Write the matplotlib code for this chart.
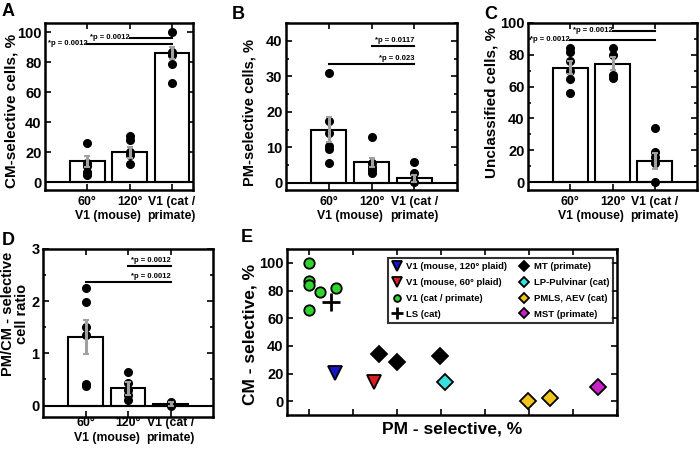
import matplotlib
matplotlib.use("Agg")
import matplotlib.pyplot as plt
from matplotlib.ticker import MultipleLocator
import numpy as np

plt.rcParams['font.family'] = ['Liberation Sans', 'DejaVu Sans']
plt.rcParams['font.weight'] = 'bold'

# ---------------- data ----------------
groups_line1 = ["60°", "120°", "V1 (cat /"]
groups_line2 = ["V1 (mouse)", "primate)"]

# Panel A: CM-selective cells, %
a_means = [14, 20, 86]
a_sem = [3.5, 3.5, 4]
a_pts = [[26, 13, 11, 7, 5], [31, 28, 20, 18, 12], [100, 87, 85, 79, 66]]

# Panel B: PM-selective cells, %
b_means = [15, 5.8, 1.3]
b_sem = [3.5, 1.3, 1.0]
b_pts = [[31, 17.5, 14, 10.5, 9.5, 5.5], [12.8, 5.6, 4.5, 3.5, 2.8], [5.8, 2.8, 0.2]]

# Panel C: Unclassified cells, %
c_means = [72, 74.5, 13.5]
c_sem = [4, 4, 5]
c_pts = [[84, 82, 76, 70, 65, 56], [84, 80, 67, 65.5], [34, 19, 16, 12, 0]]

# Panel D: PM/CM-selective cell ratio
d_means = [1.31, 0.33, 0.03]
d_sem = [0.33, 0.12, 0.03]
d_pts = [[2.25, 1.99, 1.5, 1.35, 0.41, 0.37], [0.65, 0.43, 0.3, 0.2, 0.11], [0.07, 0.02, 0.0]]

# Panel E: CM vs PM selective
e_labels = ["V1 (mouse, 120° plaid)", "V1 (mouse, 60° plaid)", "V1 (cat / primate)", "LS (cat)",
            "MT (primate)", "LP-Pulvinar (cat)", "PMLS, AEV (cat)", "MST (primate)"]
e_pm = [[5.8], [14.8], [0, 0, 0, 2.6, 6.1, 0], [5.1],
        [15.9, 20, 29.8], [30.9], [49.8, 54.7], [65.6]]
e_cm = [[20.5], [14], [100, 87, 84, 79, 82, 66], [72],
        [34, 28, 33], [14], [0.2, 2], [10]]
e_markers = ['v', 'v', 'o', '+', 'D', 'D', 'D', 'D']
e_colors = ['#1515c8', '#d81e1e', '#2fd42f', 'black', 'black', '#38e0e0', '#f0c41e', '#c822c8']
e_sizes = [10, 10, 7.5, 13, 8.5, 8.5, 8.5, 8.5]

W, H = 700, 450
fig = plt.figure(figsize=(7, 4.5), dpi=100)


def ax_px(l, r, t, b):
    return fig.add_axes([l / W, 1 - b / H, (r - l) / W, (b - t) / H])


def ftext(x, y, s, **kw):
    fig.text(x / W, 1 - y / H, s, **kw)


def style(ax):
    for s in ax.spines.values():
        s.set_linewidth(1.8)
    ax.tick_params(which='both', direction='in', top=True, right=True, width=1.2,
                   labelsize=10.5, pad=2.5)
    ax.tick_params(which='major', length=4)
    ax.tick_params(which='minor', length=2.5)
    for lab in ax.get_yticklabels():
        lab.set_fontweight('bold')


def bar_panel(ax, means, sem, pts, xmax, ylim, major, minor, off1, off2):
    x = np.arange(1, len(means) + 1)
    ax.bar(x, means, width=0.82, color='white', edgecolor='black', linewidth=1.5, zorder=2)
    ax.axhline(0, color='black', lw=1.5, zorder=3)
    for xi, p in zip(x, pts):
        ax.plot([xi] * len(p), p, 'o', color='black', ms=5.5, zorder=4)
    ax.errorbar(x, means, yerr=sem, fmt='none', ecolor='#a0a0a0', elinewidth=2.2,
                capsize=2, capthick=1.5, zorder=5)
    ax.set_xlim(0, xmax)
    ax.set_ylim(*ylim)
    ax.set_xticks(x)
    ax.set_xticklabels([])
    ax.yaxis.set_major_locator(MultipleLocator(major))
    if minor:
        ax.yaxis.set_minor_locator(MultipleLocator(minor))
    style(ax)
    for xi, t in zip(x, groups_line1):
        ax.annotate(t, xy=(xi, 0), xycoords=('data', 'axes fraction'),
                    xytext=(0, -off1 * 0.72), textcoords='offset points', ha='center',
                    va='center', fontsize=8.8, fontweight='bold')
    for xi, t in zip([1.5, 3], groups_line2):
        ax.annotate(t, xy=(xi, 0), xycoords=('data', 'axes fraction'),
                    xytext=(0, -off2 * 0.72), textcoords='offset points', ha='center',
                    va='center', fontsize=8.8, fontweight='bold')


def sig_left(ax, x0, x1, y, txt):
    ax.plot([x0, x1], [y, y], color='black', lw=1.5, zorder=6)
    ax.text(x0, y, txt, ha='right', va='center', fontsize=5.5, fontweight='bold', zorder=6)


def sig_above(ax, x0, x1, y, txt, dy):
    ax.plot([x0, x1], [y, y], color='black', lw=1.5, zorder=6)
    ax.text(x1, y + dy, txt, ha='right', va='bottom', fontsize=5.5, fontweight='bold', zorder=6)


# Panel A
axA = ax_px(45, 193, 23, 190)
bar_panel(axA, a_means, a_sem, a_pts, 3.5, (-5, 106), 20, None, 12, 26)
sig_left(axA, 1, 3, 92.3, "*p = 0.0012")
sig_left(axA, 2, 3, 96.3, "*p = 0.0012")
ftext(12, 111, "CM-selective cells, %", rotation=90, ha='center', va='center',
      fontsize=11, fontweight='bold')

# Panel B
axB = ax_px(286, 457, 23, 190)
bar_panel(axB, b_means, b_sem, b_pts, 4, (-2, 45), 10, 5, 12, 26)
sig_above(axB, 2, 3, 38.4, "*p = 0.0117", 0.6)
sig_above(axB, 1, 3, 33.4, "*p = 0.023", 0.6)
ftext(249, 112, "PM-selective cells, %", rotation=90, ha='center', va='center',
      fontsize=10.5, fontweight='bold')

# Panel C
axC = ax_px(528, 697, 23, 190)
bar_panel(axC, c_means, c_sem, c_pts, 4, (-5, 100), 20, 10, 12, 26)
sig_left(axC, 1, 3, 89.6, "*p = 0.0012")
sig_left(axC, 2, 3, 95.2, "*p = 0.0012")
ftext(491, 102, "Unclassified cells, %", rotation=90, ha='center', va='center',
      fontsize=11, fontweight='bold')

# Panel D
axD = ax_px(43, 213, 249, 417)
bar_panel(axD, d_means, d_sem, d_pts, 4, (-0.22, 3), 1, 0.5, 6, 21)
sig_above(axD, 2, 3, 2.68, "*p = 0.0012", 0.04)
sig_above(axD, 1, 3, 2.36, "*p = 0.0012", 0.04)
ftext(15, 314, "PM/CM - selective\ncell ratio", rotation=90, ha='center', va='center',
      fontsize=10.5, fontweight='bold', linespacing=0.95)

# Panel E
axE = ax_px(287, 617, 249, 415)
for lab, xs, ys, m, c, s in zip(e_labels, e_pm, e_cm, e_markers, e_colors, e_sizes):
    if m == '+':
        axE.plot(xs, ys, linestyle='none', marker=m, color=c, ms=s, mew=2, label=lab, zorder=3)
    else:
        axE.plot(xs, ys, linestyle='none', marker=m, color=c, ms=s, mec='black', mew=1.3,
                 label=lab, zorder=3)
axE.set_xlim(-5, 70)
axE.set_ylim(-10, 110)
axE.xaxis.set_major_locator(MultipleLocator(10))
axE.yaxis.set_major_locator(MultipleLocator(20))
style(axE)
axE.tick_params(labelbottom=False)
ftext(452, 429, "PM - selective, %", ha='center', va='center', fontsize=12.5, fontweight='bold')
ftext(250, 334, "CM - selective, %", rotation=90, ha='center', va='center',
      fontsize=12.5, fontweight='bold')
leg = axE.legend(ncol=2, loc='upper left', bbox_to_anchor=(0.305, 0.946), fontsize=6.8,
                 frameon=True, fancybox=False, edgecolor='black', borderpad=0.45,
                 borderaxespad=0, handletextpad=0.5, columnspacing=1.3, labelspacing=0.72,
                 markerscale=0.65, handlelength=1.0)
leg.get_frame().set_linewidth(1.5)
for t in leg.get_texts():
    t.set_fontweight('bold')

# panel letters
for letter, x, y in [("A", 2, 3), ("B", 232, 6), ("C", 484, 6), ("D", 2, 232), ("E", 241, 229)]:
    ftext(x, y, letter, fontsize=13, fontweight='bold', ha='left', va='top')

fig.savefig("out.png", dpi=100)
